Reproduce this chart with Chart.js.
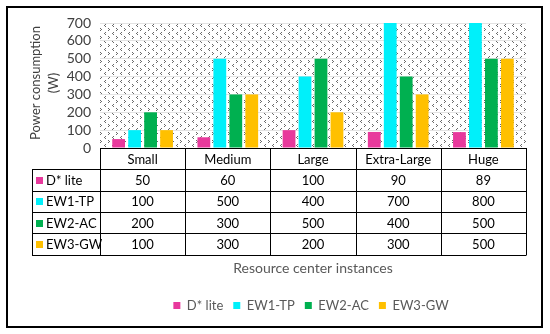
<!DOCTYPE html>
<html>
<head>
<meta charset="utf-8">
<script src="https://cdn.jsdelivr.net/npm/chart.js@4"></script>
<style>
  html, body { margin: 0; padding: 0; background: #fff; }
  #wrap { width: 550px; height: 334px; position: relative; }
</style>
</head>
<body>
<div id="wrap"><canvas id="powerChart" width="550" height="334"></canvas></div>
<script>
const categories = ['Small', 'Medium', 'Large', 'Extra-Large', 'Huge']
const seriesNames = ['D* lite', 'EW1-TP', 'EW2-AC', 'EW3-GW']
const dLite = [50, 60, 100, 90, 89]
const ew1tp = [100, 500, 400, 700, 800]
const ew2ac = [200, 300, 500, 400, 500]
const ew3gw = [100, 300, 200, 300, 500]
const yTicks = [0, 100, 200, 300, 400, 500, 600, 700]
const yTitleLines = ['Power consumption', '(W)']
const seriesColors = ['#e8399c', '#00f0fa', '#00b050', '#ffc000']

const FONT = 'Lato, "Liberation Sans", sans-serif'
const allSeries = [dLite, ew1tp, ew2ac, ew3gw]

// dotted background like the excel pattern fill
const makePattern = (ctx) => {
    const p = document.createElement('canvas')
    p.width = 8
    p.height = 8
    const pc = p.getContext('2d')
    pc.fillStyle = '#fff'
    pc.fillRect(0, 0, 8, 8)
    pc.fillStyle = '#6a6a6a'
    // "<" mark
    pc.fillRect(1, 0, 1, 1); pc.fillRect(0, 1, 1, 1); pc.fillRect(1, 2, 1, 1)
    // ">" mark
    pc.fillRect(4, 4, 1, 1); pc.fillRect(5, 5, 1, 1); pc.fillRect(4, 6, 1, 1)
    return ctx.createPattern(p, 'repeat')
}

const tablePlugin = {
    id: 'tablePlugin',
    beforeDraw(chart) {
        const { ctx, chartArea } = chart
        ctx.save()
        ctx.fillStyle = '#fff'
        ctx.fillRect(0, 0, chart.width, chart.height)
        ctx.fillStyle = makePattern(ctx)
        ctx.fillRect(chartArea.left, chartArea.top, chartArea.right - chartArea.left, chartArea.bottom - chartArea.top)
        ctx.restore()
    },
    afterDraw(chart) {
        const { ctx, chartArea } = chart
        const xs = chart.scales.x
        const left = chartArea.left
        const right = chartArea.right
        const colW = (right - left) / categories.length
        const labelLeft = 32
        const top = chartArea.bottom
        const rowH = 21.3

        ctx.save()
        ctx.strokeStyle = '#000'
        ctx.lineWidth = 1
        ctx.beginPath()
        // header row lines (data columns only)
        ctx.moveTo(left, top + 0.5); ctx.lineTo(right, top + 0.5)
        for (let r = 1; r <= seriesNames.length + 1; r++) {
            const y = Math.round(top + r * rowH) + 0.5
            ctx.moveTo(labelLeft, y); ctx.lineTo(right, y)
        }
        for (let c = 0; c <= categories.length; c++) {
            const x = Math.round(left + c * colW) + 0.5
            ctx.moveTo(x, top); ctx.lineTo(x, Math.round(top + (seriesNames.length + 1) * rowH) + 0.5)
        }
        ctx.moveTo(labelLeft + 0.5, Math.round(top + rowH)); ctx.lineTo(labelLeft + 0.5, Math.round(top + (seriesNames.length + 1) * rowH) + 0.5)
        ctx.stroke()

        ctx.font = '13px ' + FONT
        ctx.fillStyle = '#000'
        ctx.textBaseline = 'middle'
        ctx.textAlign = 'center'
        categories.forEach((cat, i) => {
            const cx = xs.getPixelForValue(i)
            ctx.fillText(cat, cx, top + rowH / 2 + 1)
            allSeries.forEach((vals, s) => {
                ctx.fillText(String(vals[i]), cx, top + (s + 1.5) * rowH + 1)
            })
        })
        ctx.textAlign = 'left'
        seriesNames.forEach((name, s) => {
            const cy = top + (s + 1.5) * rowH
            ctx.fillStyle = seriesColors[s]
            ctx.fillRect(labelLeft + 4, Math.round(cy - 3), 7, 7)
            ctx.fillStyle = '#000'
            ctx.fillText(name, labelLeft + 14, cy + 1)
        })

        // x axis title below the table
        ctx.font = '14px ' + FONT
        ctx.fillStyle = '#595959'
        ctx.textAlign = 'center'
        ctx.fillText('Resource center instances', (left + right) / 2, 268)

        // y axis title, two rotated lines
        const midY = chartArea.top + 60
        ctx.font = '13px ' + FONT
        ctx.fillStyle = '#404040'
        ctx.textAlign = 'center'
        ctx.textBaseline = 'middle'
        yTitleLines.forEach((line, i) => {
            ctx.save()
            ctx.translate(36 + i * 18, midY)
            ctx.rotate(-Math.PI / 2)
            ctx.fillText(line, 0, 0)
            ctx.restore()
        })

        // outer frame
        ctx.strokeStyle = '#000'
        ctx.lineWidth = 2
        ctx.strokeRect(7, 7, 535, 320)
        ctx.restore()
    },
    afterLayout(chart) {
        // excel centres the legend under the plot, not the canvas
        const lg = chart.legend
        if (!lg) return
        const shift = 311 - (lg.left + lg.right) / 2
        lg.left += shift
        lg.right += shift
    }
}

const ctx = document.getElementById('powerChart')
new Chart(ctx, {
    type: 'bar',
    data: {
        labels: categories,
        datasets: seriesNames.map((name, i) => ({
            label: name,
            data: allSeries[i],
            backgroundColor: seriesColors[i],
            borderWidth: 0,
            categoryPercentage: 0.75,
            barPercentage: 0.8,
        }))
    },
    options: {
        responsive: false,
        animation: false,
        devicePixelRatio: 1,
        layout: { padding: { left: 22, right: 24, top: 23, bottom: 12 } },
        plugins: {
            legend: {
                position: 'bottom',
                labels: {
                    boxWidth: 7,
                    boxHeight: 7,
                    padding: 10,
                    color: '#595959',
                    font: { family: FONT, size: 13 },
                }
            },
            tooltip: { enabled: false },
        },
        scales: {
            x: {
                grid: { display: false },
                border: { display: false },
                ticks: { display: false },
                afterFit: (scale) => { scale.height = 141 },
            },
            y: {
                min: 0,
                max: 700,
                afterBuildTicks: (scale) => { scale.ticks = yTicks.map(v => ({ value: v })) },
                grid: { color: '#e3e3e3', drawTicks: false },
                border: { display: false },
                ticks: {
                    color: '#404040',
                    padding: 9,
                    autoSkip: false,
                    font: { family: FONT, size: 14 },
                },
                title: { display: false },
                afterFit: (scale) => { scale.width = 78 },
            }
        }
    },
    plugins: [tablePlugin]
})
</script>
</body>
</html>
